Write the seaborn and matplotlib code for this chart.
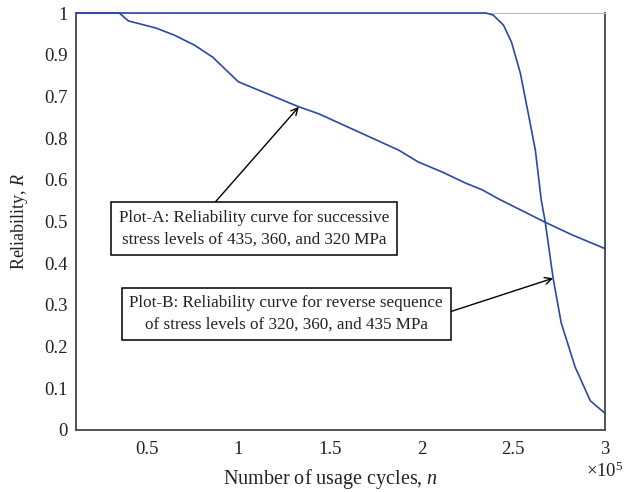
"""Reliability curves for two stress-level sequences."""

import matplotlib
matplotlib.use("Agg")
import matplotlib.pyplot as plt
import numpy as np
import pandas as pd
import seaborn as sns

# usage cycles in units of 1e5, reliability
cycles_a = [0.115, 0.35, 0.40, 0.55, 0.65, 0.76, 0.86, 0.95, 1.0, 1.33, 1.44,
            1.55, 1.875, 1.98, 2.11, 2.24, 2.33, 2.42, 2.67, 2.82, 3.0]
rel_a = [1.0, 1.0, 0.981, 0.964, 0.947, 0.923, 0.894, 0.856, 0.835, 0.775, 0.758,
         0.736, 0.671, 0.643, 0.619, 0.592, 0.576, 0.554, 0.499, 0.468, 0.435]

cycles_b = [0.115, 2.35, 2.39, 2.446, 2.49, 2.538, 2.581, 2.62, 2.652, 2.674,
            2.717, 2.761, 2.837, 2.92, 3.0]
rel_b = [1.0, 1.0, 0.995, 0.971, 0.930, 0.856, 0.760, 0.671, 0.552, 0.499,
         0.364, 0.257, 0.151, 0.07, 0.04]

x_ticks = [0.5, 1, 1.5, 2, 2.5, 3]
x_ticklabels = ["0.5", "1", "1.5", "2", "2.5", "3"]
y_ticks = [0, 0.1, 0.2, 0.3, 0.4, 0.5, 0.6, 0.7, 0.8, 0.9, 1.0]
# labels as printed in the original (0.7 and 0.8 swapped)
y_ticklabels = ["0", "0.1", "0.2", "0.3", "0.4", "0.5", "0.6", "0.8", "0.7", "0.9", "1"]

label_a = "Plot-A: Reliability curve for successive\nstress levels of 435, 360, and 320 MPa"
label_b = "Plot-B: Reliability curve for reverse sequence\nof stress levels of 320, 360, and 435 MPa"

sns.set_theme(style="white")
plt.rcParams["font.family"] = ["Liberation Serif", "DejaVu Serif"]
plt.rcParams["mathtext.fontset"] = "custom"
plt.rcParams["mathtext.rm"] = "Liberation Serif"
plt.rcParams["mathtext.it"] = "Liberation Serif:italic"

line_color = "#2b48a6"
text_color = "#222222"

df = pd.concat([
    pd.DataFrame({"n": cycles_a, "R": rel_a, "plot": "A"}),
    pd.DataFrame({"n": cycles_b, "R": rel_b, "plot": "B"}),
])

fig = plt.figure(figsize=(6.28, 4.92), dpi=100)
ax = fig.add_axes([76 / 628, 1 - 430 / 492, (605 - 76) / 628, (430 - 13) / 492])

sns.lineplot(data=df, x="n", y="R", units="plot", estimator=None,
             color=line_color, linewidth=1.2, ax=ax, legend=False)
for line in ax.lines:
    line.set_clip_on(False)
    line.set_zorder(3)

ax.set_xlim(0.114, 3.0)
ax.set_ylim(0, 1)
ax.set_xticks(x_ticks)
ax.set_xticklabels(x_ticklabels)
ax.set_yticks(y_ticks)
ax.set_yticklabels(y_ticklabels)
ax.tick_params(direction="in", length=4, width=1, colors="#333333",
               labelcolor=text_color, labelsize=13.5, pad=6)
ax.tick_params(axis="x", pad=8)

for side in ["left", "bottom", "right"]:
    ax.spines[side].set_color("#444444")
    ax.spines[side].set_linewidth(1.3)
ax.spines["top"].set_color("#bbbbbb")
ax.spines["top"].set_linewidth(0.8)

ax.set_xlabel("Number of usage cycles, $n$", fontsize=14.5, color=text_color,
              va="center")
ax.xaxis.set_label_coords(0.482, -0.118)
ax.set_ylabel("Reliability, $R$", fontsize=13, color=text_color, labelpad=10)
ax.text(1.0, -0.075, r"$\times$10$^5$", transform=ax.transAxes, ha="center",
        va="top", fontsize=13.5, color=text_color)

box = dict(boxstyle="square,pad=0.45", fc="white", ec="black", lw=1.1)
arrow = dict(arrowstyle="->", color="black", lw=1.0, shrinkA=0, shrinkB=0)

ax.annotate(label_a, xy=(1.33, 0.775), xytext=(1.087, 0.483),
            ha="center", va="center", fontsize=12.3, color=text_color,
            linespacing=1.45, bbox=box, zorder=4,
            arrowprops=dict(arrow, relpos=(0.33, 1.0)))
ax.annotate(label_b, xy=(2.717, 0.364), xytext=(1.261, 0.278),
            ha="center", va="center", fontsize=12.3, color=text_color,
            linespacing=1.45, bbox=box, zorder=4,
            arrowprops=dict(arrow, relpos=(1.0, 0.5)))

fig.savefig("out.png", dpi=100)
plt.close(fig)
